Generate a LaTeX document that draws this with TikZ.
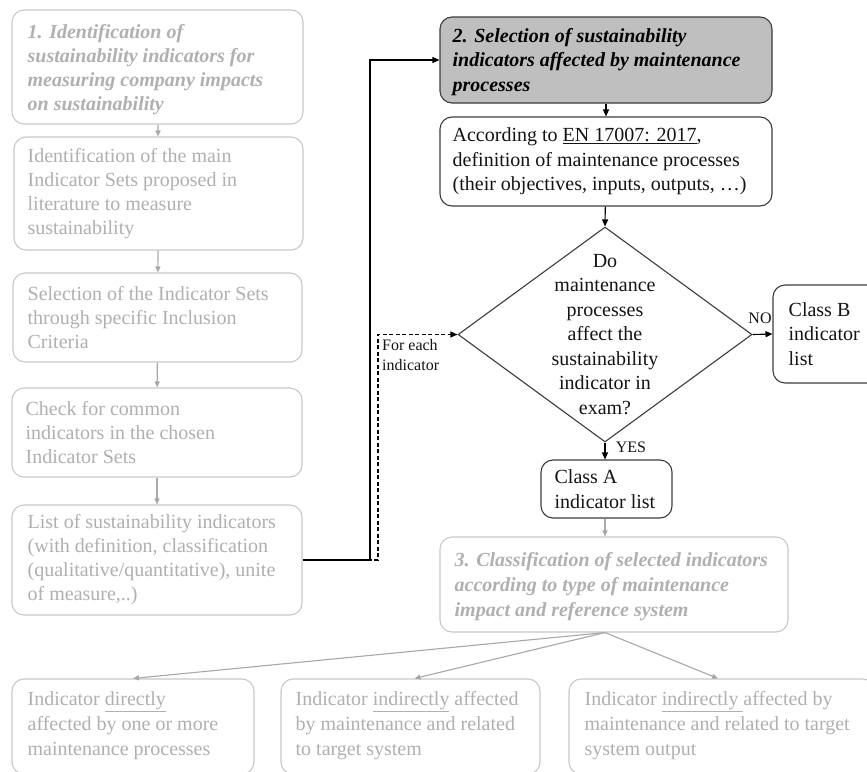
\documentclass[tikz,border=0pt]{standalone}
\usepackage{fontspec}
\setmainfont{Liberation Serif}
\usetikzlibrary{arrows.meta,shapes.geometric}

\definecolor{fadetext}{RGB}{176,176,176}
\definecolor{fadeline}{RGB}{200,200,200}
\definecolor{fadearrow}{RGB}{168,168,168}
\definecolor{darkline}{RGB}{60,60,60}
\definecolor{inktext}{RGB}{20,20,20}
\definecolor{headfill}{RGB}{191,191,191}

\tikzset{
  box/.style={draw, rounded corners=12pt, line width=1.1pt, inner sep=0pt},
  fadebox/.style={box, draw=fadeline},
  darkbox/.style={box, draw=darkline, fill=white},
  headbox/.style={box, draw=darkline, fill=headfill},
  txt/.style={inner sep=0pt, align=left, anchor=west},
  fadetxt/.style={txt, text=fadetext, font=\fontsize{20}{24}\selectfont},
  fadetxtR/.style={txt, text=fadetext, font=\fontsize{20}{25}\selectfont},
  inktxt/.style={txt, text=inktext, font=\fontsize{20}{24.5}\selectfont},
  tip/.style={-{Triangle[length=7pt,width=6pt]}},
  fadearr/.style={-{Triangle[length=6pt,width=5pt]}, draw=fadearrow, line width=1.1pt},
  inkarr/.style={tip, draw=black, line width=1.1pt},
  small/.style={inner sep=0pt, text=inktext, font=\fontsize{16}{19}\selectfont},
}

\begin{document}
\begin{tikzpicture}[x=1pt,y=-1pt]
\useasboundingbox (0,0) rectangle (867,771);
\clip (0,0) rectangle (867,771);
\fill[white] (0,0) rectangle (867,771);

% ---- left column: step 1 ----
\node[fadebox, minimum width=291pt, minimum height=114pt] (b1) at (157.5,67) {};
\node[fadetxt, font=\fontsize{20}{24}\selectfont\bfseries\itshape] (b1t) at ([xshift=16pt,yshift=-3pt]b1.west)
  {1. Identification of\\sustainability indicators for\\measuring company impacts\\on sustainability};

\node[fadebox, minimum width=289pt, minimum height=113pt] (b2) at (158.5,193.5) {};
\node[fadetxt] (b2t) at ([xshift=14pt]b2.west)
  {Identification of the main\\Indicator Sets proposed in\\literature to measure\\sustainability};

\node[fadebox, minimum width=289pt, minimum height=89pt] (b3) at (157.5,317.5) {};
\node[fadetxt] (b3t) at ([xshift=15pt]b3.west)
  {Selection of the Indicator Sets\\through specific Inclusion\\Criteria};

\node[fadebox, minimum width=290pt, minimum height=89pt] (b4) at (157,432.5) {};
\node[fadetxt] (b4t) at ([xshift=14pt]b4.west)
  {Check for common\\indicators in the chosen\\Indicator Sets};

\node[fadebox, minimum width=290pt, minimum height=110pt] (b5) at (157,560) {};
\node[fadetxt] (b5t) at ([xshift=16pt]b5.west)
  {List of sustainability indicators\\(with definition, classification\\(qualitative/quantitative), unite\\of measure,..)};

\draw[fadearr] (b1) -- (b2);
\draw[fadearr] (b2) -- (b3);
\draw[fadearr] (b3) -- (b4);
\draw[fadearr] (b4) -- (b5);

% ---- step 2 ----
\node[headbox, minimum width=332pt, minimum height=86pt] (s2) at (606,60) {};
\node[inktxt, text=black, font=\fontsize{20}{24.5}\selectfont\bfseries\itshape] (s2t) at ([xshift=13pt,yshift=-2pt]s2.west)
  {2. Selection of sustainability\\indicators affected by maintenance\\processes};

\node[darkbox, minimum width=332pt, minimum height=89pt] (en) at (606,161.5) {};
\node[inktxt] (ent) at ([xshift=13pt]en.west)
  {According to \underline{EN 17007: 2017},\\definition of maintenance processes\\(their objectives, inputs, outputs, …)};

\node[diamond, draw=darkline, line width=1.1pt, inner sep=0pt,
      minimum width=294pt, minimum height=215pt] (q) at (605,334.5) {};
\node[inner sep=0pt, align=center, text=inktext, font=\fontsize{20}{24.5}\selectfont] (qt) at (q.center)
  {Do\\maintenance\\processes\\affect the\\sustainability\\indicator in\\exam?};

\node[darkbox, minimum width=131pt, minimum height=58pt] (ca) at (606.5,489) {};
\node[inktxt] (cat) at ([xshift=14pt]ca.west) {Class A\\indicator list};

\node[darkbox, minimum width=124pt, minimum height=98pt] (cb) at (835,334) {};
\node[inktxt] (cbt) at ([xshift=16pt]cb.west) {Class B\\indicator\\list};

\draw[inkarr] (s2) -- (en);
\draw[inkarr] (en) -- (q.north);
\draw[inkarr] (q.south) -- (ca.north -| q.south);
\draw[inkarr] (q.east) -- (cb.west);
\node[small] (nolab) at (760,318) {NO};
\node[small] (yeslab) at (631,447) {YES};

% ---- links from the indicator list ----
\coordinate (bendA) at (370,0);
\coordinate (bendB) at (378,0);
\draw[inkarr] (b5.east) -- (b5.east -| bendA) |- (s2.west);
\draw[inkarr, dash pattern=on 4pt off 2.5pt] (b5.east) -- (b5.east -| bendB) |- (q.west);
\node[inner sep=0pt, anchor=north west, align=left, text=inktext,
      font=\fontsize{16}{20}\selectfont] (each) at (382,339) {For each\\indicator};

% ---- step 3 ----
\node[fadebox, minimum width=348pt, minimum height=95pt] (s3) at (614,584.5) {};
\node[fadetxtR, font=\fontsize{20}{25}\selectfont\bfseries\itshape] (s3t) at ([xshift=15pt,yshift=-2pt]s3.west)
  {3. Classification of selected indicators\\according to type of maintenance\\impact and reference system};

\draw[fadearr] (ca.south -| q.south) -- (s3.north -| q.south);

\node[fadebox, minimum width=242pt, minimum height=95pt] (i1) at (133,726.5) {};
\node[fadetxtR] (i1t) at ([xshift=16pt,yshift=1pt]i1.west)
  {Indicator \underline{directly}\\affected by one or more\\maintenance processes};

\node[fadebox, minimum width=259pt, minimum height=95pt] (i2) at (410.5,726.5) {};
\node[fadetxtR] (i2t) at ([xshift=15pt,yshift=1pt]i2.west)
  {Indicator \underline{indirectly} affected\\by maintenance and related\\to target system};

\node[fadebox, minimum width=306pt, minimum height=95pt] (i3) at (722,726.5) {};
\node[fadetxtR] (i3t) at ([xshift=16pt,yshift=1pt]i3.west)
  {Indicator \underline{indirectly\ }affected by\\maintenance and related to target\\system output};

\draw[fadearr] ([xshift=-9pt]s3.south) -- (i1.north);
\draw[fadearr] ([xshift=-9pt]s3.south) -- ([xshift=4pt]i2.north);
\draw[fadearr] ([xshift=-9pt]s3.south) -- ([xshift=-4pt]i3.north);
\end{tikzpicture}
\end{document}
